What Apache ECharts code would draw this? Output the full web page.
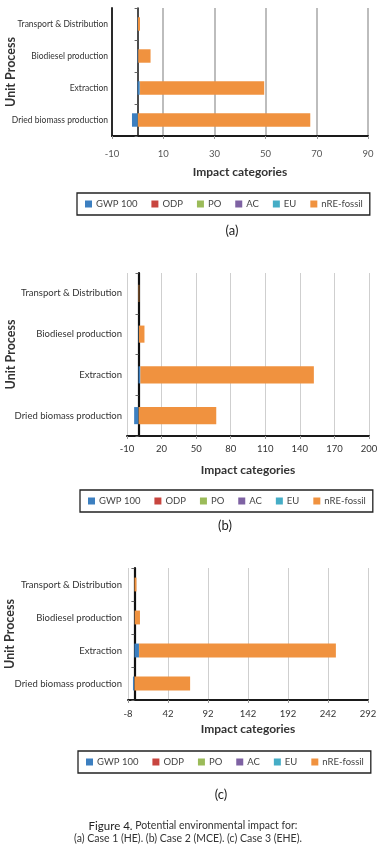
<!DOCTYPE html>
<html><head><meta charset="utf-8">
<script src="https://cdn.jsdelivr.net/npm/echarts@6/dist/echarts.min.js"></script>
<style>html,body{margin:0;padding:0;background:#fff}#c{width:386px;height:854px}</style>
</head><body><div id="c"></div>
<script>
// ---------- DATA ----------
const categories = ['Transport & Distribution', 'Biodiesel production', 'Extraction', 'Dried biomass production'];
const seriesNames = ['GWP 100', 'ODP', 'PO', 'AC', 'EU', 'nRE-fossil'];

// (a) Case 1 (HE)
const caseA_GWP100 = [0.1, 0.2, 0.8, -2.2];
const caseA_ODP    = [0.001, 0.001, 0.002, 0.002];
const caseA_PO     = [0.01, 0.02, 0.05, 0.05];
const caseA_AC     = [0.01, 0.02, 0.05, 0.05];
const caseA_EU     = [0.01, 0.02, 0.05, 0.05];
const caseA_nRE    = [0.8, 4.8, 48.5, 67.3];
const xTicksA = [-10, 10, 30, 50, 70, 90];

// (b) Case 2 (MCE)
const caseB_GWP100 = [0.05, 0.3, 1.5, -3.8];
const caseB_ODP    = [0.001, 0.001, 0.002, 0.002];
const caseB_PO     = [0.01, 0.02, 0.05, 0.05];
const caseB_AC     = [0.01, 0.02, 0.05, 0.05];
const caseB_EU     = [0.01, 0.02, 0.05, 0.05];
const caseB_nRE    = [0.6, 4.8, 150.5, 67.3];
const xTicksB = [-10, 20, 50, 80, 110, 140, 170, 200];

// (c) Case 3 (EHE)
const caseC_GWP100 = [0.05, 0.3, 5.7, -1.8];
const caseC_ODP    = [0.001, 0.001, 0.002, 0.002];
const caseC_PO     = [0.01, 0.02, 0.05, 0.05];
const caseC_AC     = [0.01, 0.02, 0.05, 0.05];
const caseC_EU     = [0.01, 0.02, 0.05, 0.05];
const caseC_nRE    = [2.5, 6.6, 246, 69.5];
const xTicksC = [-8, 42, 92, 142, 192, 242, 292];

const panelTags = ['(a)', '(b)', '(c)'];
const captionBold = 'Figure 4.';
const captionRest = ' Potential environmental impact for:';
const captionLine2 = '(a) Case 1 (HE). (b) Case 2 (MCE). (c) Case 3 (EHE).';

// ---------- STYLE / LAYOUT ----------
const FONT = 'Lato, "Noto Sans", sans-serif';
const COLORS = ['#3c7fc0', '#c8453f', '#9bbb59', '#7e62a3', '#45adc6', '#f0923f'];

const panels = [
  { data: [caseA_GWP100, caseA_ODP, caseA_PO, caseA_AC, caseA_EU, caseA_nRE], ticks: xTicksA,
    grid: {left: 112, top: 8, width: 256, height: 128},
    catFont: 8.5, catMargin: 4, yNameGap: 95, xLabelMargin: 13, xNameGap: 30,
    leftLine: {show: true, color: '#2a2a2a', width: 2},
    firstSplit: '#2a2a2a', splitGray: '#bdbdbd', splitWidth: 2, zeroWidth: 1.5, labelColor: '#555',
    legend: {left: 77, top: 193}, tag: [232, 231] },
  { data: [caseB_GWP100, caseB_ODP, caseB_PO, caseB_AC, caseB_EU, caseB_nRE], ticks: xTicksB,
    grid: {left: 127, top: 273, width: 242, height: 163},
    catFont: 9.5, catMargin: 5, yNameGap: 110, xLabelMargin: 8, xNameGap: 28,
    leftLine: {show: false, color: '#cfcfcf', width: 1},
    firstSplit: '#cfcfcf', splitGray: '#cfcfcf', splitWidth: 1, zeroWidth: 2.2, labelColor: '#333',
    legend: {left: 80, top: 490}, tag: [225, 526] },
  { data: [caseC_GWP100, caseC_ODP, caseC_PO, caseC_AC, caseC_EU, caseC_nRE], ticks: xTicksC,
    grid: {left: 128, top: 568, width: 240, height: 132},
    catFont: 9.5, catMargin: 6, yNameGap: 112, xLabelMargin: 9, xNameGap: 23,
    leftLine: {show: false, color: '#cfcfcf', width: 1},
    firstSplit: '#cfcfcf', splitGray: '#cfcfcf', splitWidth: 1, zeroWidth: 2.2, labelColor: '#333',
    legend: {left: 78, top: 751}, tag: [221, 795] }
];

const option = {
  backgroundColor: '#fff',
  animation: false,
  textStyle: {fontFamily: FONT},
  grid: [], xAxis: [], yAxis: [], series: [], legend: [], graphic: []
};

panels.forEach((p, i) => {
  option.grid.push(Object.assign({containLabel: false, outerBoundsMode: 'none'}, p.grid));
  const t = p.ticks;
  const splitColors = t.map((v, j) => j === 0 ? p.firstSplit : p.splitGray);
  option.xAxis.push({
    type: 'value', gridIndex: i,
    min: t[0], max: t[t.length - 1], interval: t[1] - t[0],
    name: 'Impact categories', nameLocation: 'middle', nameGap: p.xNameGap, nameMoveOverlap: false,
    nameTextStyle: {fontFamily: FONT, fontSize: 12, fontWeight: 'bold', color: '#333'},
    axisLine: {show: true, onZero: false, lineStyle: {color: '#1a1a1a', width: 2}},
    axisTick: {show: true, length: 3, lineStyle: {color: '#999'}},
    axisLabel: {margin: p.xLabelMargin, fontSize: 9.5, color: p.labelColor, fontFamily: FONT, showMinLabel: true, showMaxLabel: true},
    splitLine: {show: true, showMinLine: true, showMaxLine: true, lineStyle: {color: splitColors, width: p.splitWidth}}
  });
  // label axis at the left edge of the plot
  option.yAxis.push({
    type: 'category', gridIndex: i, data: categories, inverse: true, position: 'left',
    name: 'Unit Process', nameLocation: 'middle', nameGap: p.yNameGap, nameMoveOverlap: false,
    nameTextStyle: {fontFamily: FONT, fontSize: 12.5, fontWeight: 'bold', color: '#333'},
    axisLine: {show: p.leftLine.show, onZero: false, lineStyle: {color: p.leftLine.color, width: p.leftLine.width}},
    axisTick: {show: false},
    axisLabel: {margin: p.catMargin, fontSize: p.catFont, color: '#333', fontFamily: FONT},
    splitLine: {show: false}
  });
});

// zero-crossing category axes (line + ticks only)
panels.forEach((p, i) => {
  option.yAxis.push({
    type: 'category', gridIndex: i, data: categories, inverse: true, position: 'left',
    axisLine: {show: true, onZero: true, lineStyle: {color: '#111', width: p.zeroWidth}},
    axisTick: {show: true, length: 3, lineStyle: {color: '#666'}},
    axisLabel: {show: false},
    splitLine: {show: false}
  });
});

panels.forEach((p, i) => {
  seriesNames.forEach((n, k) => {
    option.series.push({
      type: 'bar', name: n, stack: 'case' + i, xAxisIndex: i, yAxisIndex: i,
      data: p.data[k], barWidth: '42%', itemStyle: {color: COLORS[k]},
      emphasis: {disabled: true}, silent: true
    });
  });
  option.legend.push({
    left: p.legend.left, top: p.legend.top, orient: 'horizontal',
    data: seriesNames, icon: 'rect', itemWidth: 7, itemHeight: 7, itemGap: 14,
    borderColor: '#222', borderWidth: 1.3, padding: [6, 7, 6, 8], selectedMode: false,
    textStyle: {fontSize: 9.5, color: '#444', fontFamily: FONT, padding: [0, 0, 0, -1]}
  });
  option.graphic.push({
    type: 'text', x: p.tag[0], y: p.tag[1],
    style: {text: panelTags[i], fill: '#222', font: '13px ' + FONT, textAlign: 'center', textVerticalAlign: 'middle'}
  });
});

option.graphic.push({
  type: 'text', x: 193, y: 826,
  style: {
    text: '{b|' + captionBold + '}{r|' + captionRest + '}',
    textAlign: 'center', textVerticalAlign: 'middle',
    rich: {
      b: {fontFamily: FONT, fontSize: 11.5, fill: '#222', fontWeight: 'normal'},
      r: {fontFamily: FONT, fontSize: 10.5, fill: '#333'}
    }
  }
});
option.graphic.push({
  type: 'text', x: 188, y: 839,
  style: {text: captionLine2, fill: '#333', font: '10.5px ' + FONT, textAlign: 'center', textVerticalAlign: 'middle'}
});

const chart = echarts.init(document.getElementById('c'));
chart.setOption(option);
</script>
</body></html>
